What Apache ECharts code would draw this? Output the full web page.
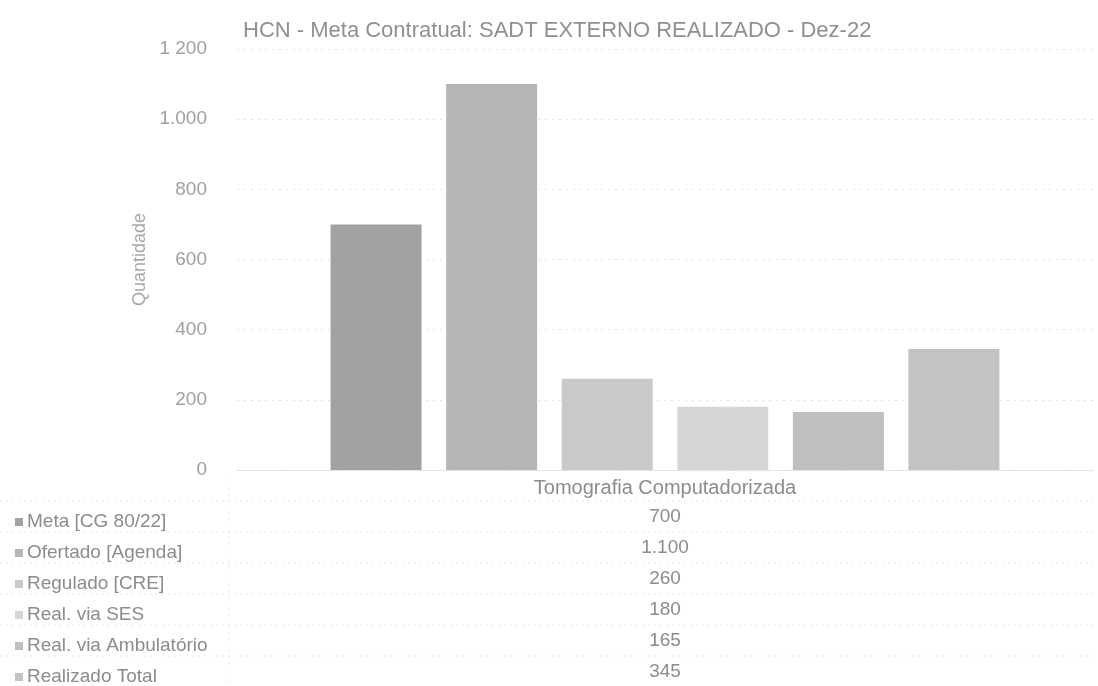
<!DOCTYPE html>
<html>
<head>
<meta charset="utf-8">
<script src="https://cdn.jsdelivr.net/npm/echarts@6/dist/echarts.min.js"></script>
<style>
  html, body { margin: 0; padding: 0; background: #fff; }
  #chart { width: 1098px; height: 686px; }
</style>
</head>
<body>
<div id="chart"></div>
<script>
const categories = ['Tomografia Computadorizada']
const seriesNames = ['Meta [CG 80/22]', 'Ofertado [Agenda]', 'Regulado [CRE]', 'Real. via SES', 'Real. via Ambulatório', 'Realizado Total']
const seriesValues = [700, 1100, 260, 180, 165, 345]
const valueLabels = ['700', '1.100', '260', '180', '165', '345']
const tickLabels = { 0: '0', 200: '200', 400: '400', 600: '600', 800: '800', 1000: '1.000', 1200: '1 200' }
const barColors = ['#a2a2a2', '#b6b6b6', '#c9c9c9', '#d6d6d6', '#bfbfbf', '#c3c3c3']

const FONT = '"Liberation Sans", Arial, sans-serif'
const TXT = '#8c8c8c'
const ROW0 = 517, ROWH = 31, VALX = 665

const chart = echarts.init(document.getElementById('chart'))

// faint dotted grid of the data table under the plot
const tableLines = []
for (let i = 0; i <= seriesNames.length; i++) {
  const y = ROW0 - 16 + i * ROWH
  tableLines.push({
    type: 'line', silent: true,
    shape: { x1: 0, y1: y, x2: 1098, y2: y },
    style: { stroke: '#e6e6e6', lineWidth: 1, lineDash: [2, 4] }
  })
}
tableLines.push({
  type: 'line', silent: true,
  shape: { x1: 229, y1: 476, x2: 229, y2: 686 },
  style: { stroke: '#eaeaea', lineWidth: 1, lineDash: [2, 4] }
})
const valueTexts = valueLabels.map((v, i) => ({
  type: 'text', silent: true,
  x: VALX, y: ROW0 + i * ROWH,
  style: { text: v, fill: TXT, font: '19px ' + FONT, align: 'center', verticalAlign: 'middle' }
}))

chart.setOption({
  backgroundColor: '#fff',
  animation: false,
  textStyle: { fontFamily: FONT },
  title: {
    text: 'HCN - Meta Contratual: SADT EXTERNO REALIZADO - Dez-22',
    left: 238, top: 15,
    textStyle: { color: '#909090', fontSize: 22, fontWeight: 'normal', fontFamily: FONT }
  },
  grid: { left: 237, right: 5, top: 49, bottom: 216 },
  legend: {
    orient: 'vertical', left: 10, top: ROW0 - 10, height: 200,
    itemWidth: 8, itemHeight: 8, itemGap: 11,
    icon: 'rect', selectedMode: false,
    data: seriesNames,
    textStyle: { color: TXT, fontSize: 19, lineHeight: 20, fontFamily: FONT, padding: [0, 0, 0, -1] }
  },
  xAxis: {
    type: 'category', data: categories,
    axisLine: { show: true, lineStyle: { color: '#e0e0e0', type: 'dotted' } },
    axisTick: { show: false },
    axisLabel: { color: TXT, fontSize: 20, margin: 8 }
  },
  yAxis: {
    type: 'value', min: 0, max: 1200, interval: 200,
    name: 'Quantidade', nameLocation: 'middle', nameGap: 86, nameRotate: 90,
    nameTextStyle: { color: '#a8a8a8', fontSize: 18 },
    axisLine: { show: false }, axisTick: { show: false },
    axisLabel: { color: '#a0a0a0', fontSize: 19, margin: 30, formatter: v => tickLabels[v] ?? String(v) },
    splitLine: { lineStyle: { color: '#e2e2e2', type: [2, 5] } }
  },
  series: seriesNames.map((name, i) => ({
    name, type: 'bar',
    data: [seriesValues[i]],
    barWidth: 91, barGap: '27%',
    itemStyle: { color: barColors[i] }
  })),
  graphic: [...tableLines, ...valueTexts]
})
</script>
</body>
</html>
